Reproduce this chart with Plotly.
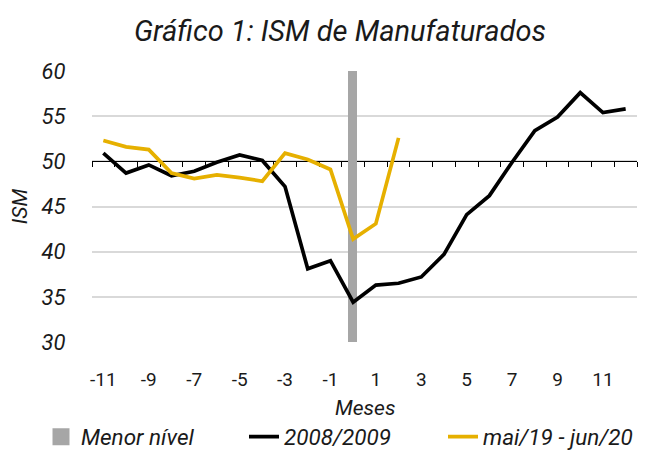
import plotly.graph_objects as go

months = list(range(-11, 13))
ism_2008 = [50.9, 48.7, 49.6, 48.4, 48.9, 49.9, 50.7, 50.1, 47.2, 38.1, 39.0, 34.4,
            36.3, 36.5, 37.2, 39.7, 44.1, 46.2, 49.9, 53.4, 54.9, 57.6, 55.4, 55.8]
months_2019 = list(range(-11, 3))
ism_2019 = [52.3, 51.6, 51.3, 48.7, 48.1, 48.5, 48.2, 47.8, 50.9, 50.2, 49.1, 41.4, 43.1, 52.6]
low_x = [0]
low_top = [60]
low_base = [30]
tick_labels = [-11, -9, -7, -5, -3, -1, 1, 3, 5, 7, 9, 11]

FONT = "Roboto"
GOLD = "#E6B000"
TXT = "#1a1a1a"

# page body has an 8px margin, so the figure is 8px smaller than the window
W, H = 640, 442
OFF = 8
PL, PR, PT, PB = 92 - OFF, 637 - OFF, 71 - OFF, 342 - OFF
PW, PH = PR - PL, PB - PT

fig = go.Figure()
fig.add_trace(go.Bar(x=low_x, y=[t - b for t, b in zip(low_top, low_base)], base=low_base,
                     width=0.18, marker=dict(color="#A6A6A6", line=dict(width=5, color="#A6A6A6")),
                     name="<i>Menor nível</i>", legend="legend"))
fig.add_trace(go.Scatter(x=months, y=ism_2008, mode="lines",
                         line=dict(color="black", width=3.7), name="<i>2008/2009</i>",
                         legend="legend2"))
fig.add_trace(go.Scatter(x=months_2019, y=ism_2019, mode="lines",
                         line=dict(color=GOLD, width=3.7), name="<i>mai/19 - jun/20</i>",
                         legend="legend3"))
# invisible trace to activate the axis line at 50
fig.add_trace(go.Scatter(x=[-11.5, 12.5], y=[50, 50], mode="lines", xaxis="x2",
                         line=dict(width=0), showlegend=False, hoverinfo="skip"))

leg_common = dict(orientation="h", xanchor="left", yref="container", y=1 - (437 - OFF) / H,
                  yanchor="middle", font=dict(size=22.5, family=FONT, color=TXT),
                  itemwidth=30, bgcolor="rgba(0,0,0,0)", borderwidth=0)

fig.update_layout(
    width=W, height=H,
    margin=dict(l=PL, r=W - PR, t=PT, b=H - PB, autoexpand=False),
    paper_bgcolor="white", plot_bgcolor="white",
    font=dict(family=FONT, color=TXT),
    title=dict(text="<i>Gráfico 1: ISM de Manufaturados</i>", x=(340 - OFF) / W, xref="container",
               xanchor="center", y=1 - (31 - OFF) / H, yanchor="middle",
               font=dict(size=29, family=FONT, color=TXT)),
    showlegend=True,
    legend=dict(x=(41 - OFF - PL) / PW, **leg_common),
    legend2=dict(x=(244 - OFF - PL) / PW, **leg_common),
    legend3=dict(x=(443 - OFF - PL) / PW, **leg_common),
    bargap=0,
    xaxis=dict(range=[-11.5, 12.5], tickvals=tick_labels, ticktext=[str(v) for v in tick_labels],
               showgrid=False, zeroline=False, showline=False, automargin=False,
               ticks="outside", ticklen=20, tickcolor="rgba(0,0,0,0)",
               tickfont=dict(size=19, family=FONT, color=TXT)),
    xaxis2=dict(range=[-11.5, 12.5], overlaying="x", anchor="free", position=2 / 3,
                side="bottom", showline=True, linecolor="black", linewidth=1.3,
                tickvals=[v + 0.5 for v in range(-12, 13)], ticks="outside", ticklen=5,
                tickcolor="black", tickwidth=1, showticklabels=False, showgrid=False,
                zeroline=False, layer="below traces", automargin=False),
    yaxis=dict(range=[30, 60], dtick=5, domain=[0, 1], showgrid=True, gridcolor="#D9D9D9",
               gridwidth=1.5, zeroline=False, showline=False, automargin=False,
               ticks="outside", ticklen=21, tickcolor="rgba(0,0,0,0)",
               tickfont=dict(size=22, family=FONT, color=TXT),
               tickprefix="<i>", ticksuffix="</i>",
               title=dict(text="<i>ISM</i>", font=dict(size=21, family=FONT, color=TXT),
                          standoff=9)),
    annotations=[dict(text="<i>Meses</i>", xref="paper", yref="paper", x=0.5,
                      y=(PB - (408 - OFF)) / PH, xanchor="center", yanchor="middle",
                      showarrow=False, font=dict(size=21, family=FONT, color=TXT))],
)

fig.write_html("out.html")
